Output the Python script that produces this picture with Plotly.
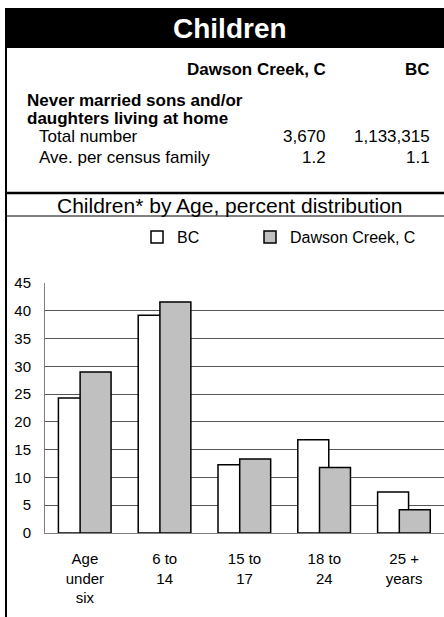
import plotly.graph_objects as go

categories = ["Age<br>under<br>six", "6 to<br>14", "15 to<br>17", "18 to<br>24", "25 +<br>years"]
bc_values = [24.3, 39.2, 12.3, 16.8, 7.4]
dc_values = [29.0, 41.6, 13.3, 11.8, 4.2]
series_names = ["BC", "Dawson Creek, C"]
y_ticks = [0, 5, 10, 15, 20, 25, 30, 35, 40, 45]

header_title = "Children"
col_headers = ["Dawson Creek, C", "BC"]
section_lines = ["Never married sons and/or", "daughters living at home"]
row_labels = ["Total number", "Ave. per census family"]
row_dc = ["3,670", "1.2"]
row_bc = ["1,133,315", "1.1"]
chart_title = "Children* by Age, percent distribution"

W, H = 444, 617
L, R, T, B = 45, 0, 283, 84
PW, PH = W - L - R, H - T - B
FONT = "Liberation Sans, Arial, sans-serif"


def px(x):
    return (x - L) / PW


def py(y):
    return (H - B - y) / PH


fig = go.Figure()
fig.add_trace(go.Bar(
    x=categories, y=bc_values, name=series_names[0], legend="legend",
    marker=dict(color="white", line=dict(color="black", width=1.5)),
    offset=-0.332, width=0.388,
))
fig.add_trace(go.Bar(
    x=categories, y=dc_values, name=series_names[1], legend="legend2",
    marker=dict(color="#c0c0c0", line=dict(color="black", width=1.5)),
    offset=-0.06, width=0.388,
))

annotations = []


def ann(text, x, y, size, xanchor="left", bold=False, color="black"):
    t = f"<b>{text}</b>" if bold else text
    annotations.append(dict(
        text=t, x=px(x), y=py(y), xref="paper", yref="paper",
        xanchor=xanchor, yanchor="middle", showarrow=False,
        font=dict(family=FONT, size=size, color=color),
    ))


ann(header_title, 230, 28, 28, "center", True, "white")
ann(col_headers[0], 328, 70, 17, "right", True)
ann(col_headers[1], 432, 70, 17, "right", True)
ann(section_lines[0], 25, 100, 17, "left", True)
ann(section_lines[1], 25, 118, 17, "left", True)
for i, (lab, a, b) in enumerate(zip(row_labels, row_dc, row_bc)):
    yy = 137 + 20 * i
    ann(lab, 37, yy, 17, "left")
    ann(a, 328, yy, 17, "right")
    ann(b, 432, yy, 17, "right")
ann(chart_title, 230, 205, 21, "center")

shapes = [
    dict(type="rect", xref="paper", yref="paper", x0=px(5), x1=px(444), y0=py(48), y1=py(8),
         fillcolor="black", line=dict(width=0), layer="below"),
    dict(type="line", xref="paper", yref="paper", x0=px(6), x1=px(6), y0=py(48), y1=py(617),
         line=dict(color="black", width=2)),
    dict(type="line", xref="paper", yref="paper", x0=px(5), x1=px(444), y0=py(193), y1=py(193),
         line=dict(color="black", width=2.5)),
    dict(type="line", xref="paper", yref="paper", x0=px(5), x1=px(444), y0=py(216), y1=py(216),
         line=dict(color="black", width=1)),
]

legend_style = dict(
    orientation="h", yanchor="middle", xanchor="left",
    font=dict(family=FONT, size=16, color="black"),
    bgcolor="rgba(0,0,0,0)", itemclick=False, itemdoubleclick=False,
)

fig.update_layout(
    width=W, height=H, autosize=False,
    margin=dict(l=L, r=R, t=T, b=B, pad=0),
    paper_bgcolor="white", plot_bgcolor="white",
    barmode="overlay",
    font=dict(family=FONT, size=15, color="black"),
    showlegend=True,
    legend=dict(x=px(137), y=py(237), **legend_style),
    legend2=dict(x=px(250), y=py(237), **legend_style),
    xaxis=dict(
        type="category", showgrid=False, showline=True, linecolor="#808080", linewidth=1,
        ticks="", tickfont=dict(size=15), ticklabelstandoff=12, fixedrange=True,
        range=[-0.5, 4.5],
    ),
    yaxis=dict(
        range=[0, 45], tickvals=y_ticks, showgrid=True, gridcolor="#555555", gridwidth=1,
        showline=True, linecolor="#808080", linewidth=1, zeroline=False,
        ticks="", tickfont=dict(size=15), ticklabelstandoff=10, fixedrange=True,
    ),
    annotations=annotations,
    shapes=shapes,
)

fig.write_html(
    "out.html",
    config={"responsive": False, "displayModeBar": False},
    post_script="document.body.style.margin='0';document.body.style.overflow='hidden';",
)
